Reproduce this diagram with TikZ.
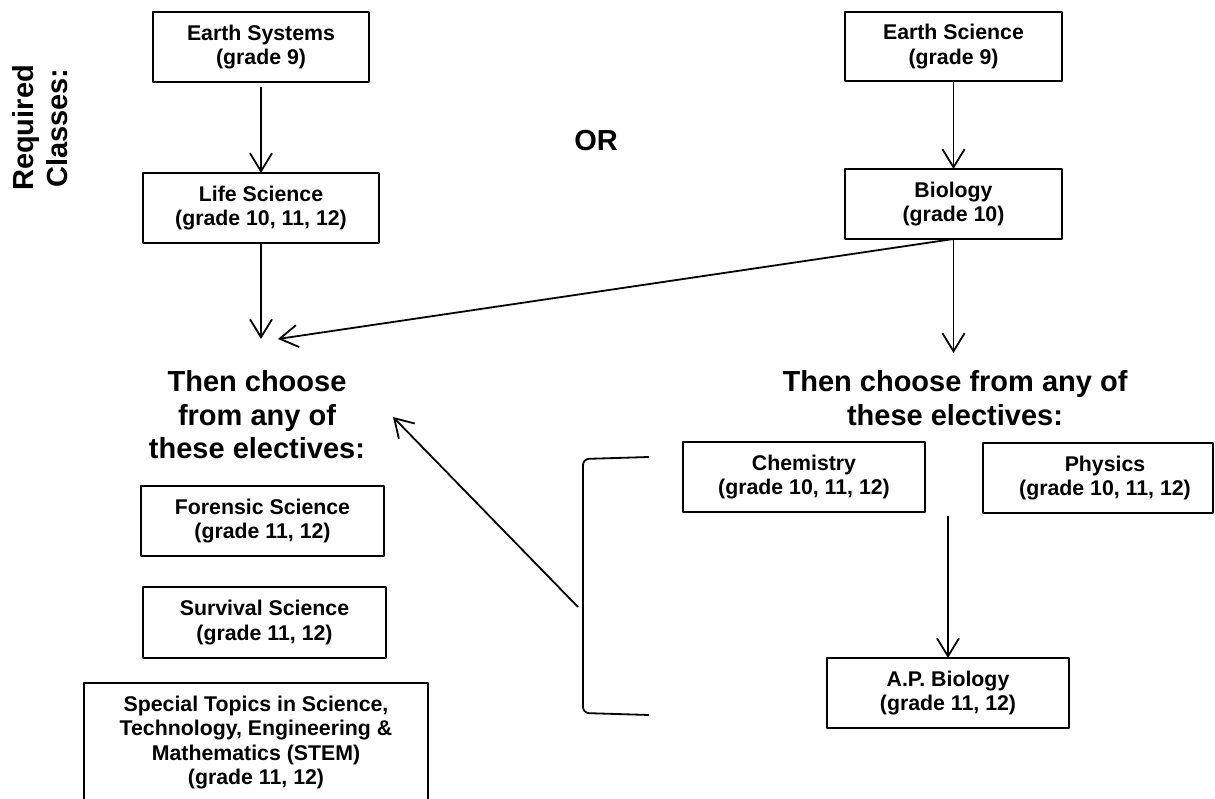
\documentclass[tikz,border=0pt]{standalone}
\usepackage{fontspec}
\setmainfont{Liberation Sans}
\usetikzlibrary{arrows.meta,calc}

\newcommand{\coursefont}{\fontsize{21.3bp}{24.5bp}\selectfont\bfseries}
\newcommand{\headfont}{\fontsize{29bp}{33.5bp}\selectfont\bfseries}

\begin{document}
\begin{tikzpicture}[line join=bevel,
  course/.style={draw,line width=1.9bp,align=center,inner sep=0pt,outer sep=0pt,font=\coursefont},
  head/.style={align=center,inner sep=0pt,font=\headfont},
  arr/.style={-{Straight Barb[length=18bp,width=22bp]},line width=1.8bp}]
  \useasboundingbox (0bp,0bp) rectangle (1215bp,799bp);
  % Node: req
  \node[head,rotate=90] (req) at (40bp,671bp) {Required\\Classes:};
  % Node: or
  \node[head] (or) at (596bp,658bp) {OR};
  % Node: es
  \node[course,minimum width=216bp,minimum height=70bp] (es) at (261bp,752bp) {Earth Systems\\(grade 9)};
  % Node: ls
  \node[course,minimum width=236bp,minimum height=70bp] (ls) at (261bp,591bp) {Life Science\\(grade 10, 11, 12)};
  % Node: esc
  \node[course,minimum width=217bp,minimum height=69bp] (esc) at (953.5bp,752.5bp) {Earth Science\\(grade 9)};
  % Node: bio
  \node[course,minimum width=217bp,minimum height=70bp] (bio) at (953.5bp,595bp) {Biology\\(grade 10)};
  % Node: lhead
  \node[head] (lhead) at (257bp,384bp) {Then choose\\from any of\\these electives:};
  % Node: rhead
  \node[head] (rhead) at (955bp,401bp) {Then choose from any of\\these electives:};
  % Node: chem
  \node[course,minimum width=242bp,minimum height=70bp] (chem) at (804bp,322bp) {Chemistry\\(grade 10, 11, 12)};
  % Node: phys
  \node[course,minimum width=230bp,minimum height=70bp] (phys) at (1098bp,321bp) {\hspace*{14bp}Physics\\\hspace*{14bp}(grade 10, 11, 12)};
  % Node: apb
  \node[course,minimum width=242bp,minimum height=70bp] (apb) at (948bp,106bp) {A.P. Biology\\(grade 11, 12)};
  % Node: fs
  \node[course,minimum width=243bp,minimum height=70bp] (fs) at (262.5bp,278bp) {Forensic Science\\(grade 11, 12)};
  % Node: ss
  \node[course,minimum width=243bp,minimum height=71bp] (ss) at (264.5bp,176.5bp) {Survival Science\\(grade 11, 12)};
  % Node: stem
  \node[course,minimum width=344bp,minimum height=119bp] (stem) at (256bp,56.5bp) {Special Topics in Science,\\Technology, Engineering \&\\Mathematics (STEM)\\(grade 11, 12)};
  % free ends
  \coordinate (lhit) at (261bp,460bp);
  \coordinate (bhit) at (278bp,460bp);
  \coordinate (rhit) at (953.5bp,446bp);
  \coordinate (brtail) at (578bp,192bp);
  \coordinate (brtip) at (393bp,382bp);
  % Bracket round the right electives
  \draw[line width=1.8bp,rounded corners=6bp] (649bp,342bp) -- (583bp,340bp) -- (583bp,86bp) -- (649bp,84bp);
  % Edge: es -> ls
  \draw[arr,shorten <=5bp] (es) -- (ls);
  % Edge: esc -> bio
  \draw[arr] (esc) -- (bio);
  % Edge: ls -> lhead
  \draw[arr] (ls.south) -- (lhit);
  % Edge: bio -> lhead
  \draw[arr] (bio.south) -- (bhit);
  % Edge: bio -> rhead
  \draw[arr] (bio.south) -- (rhit);
  % Edge: bracket -> lhead
  \draw[arr] (brtail) -- (brtip);
  % Edge: chem -> apb
  \draw[arr,shorten <=4bp] (apb.north |- chem.south) -- (apb.north);
\end{tikzpicture}
\end{document}
